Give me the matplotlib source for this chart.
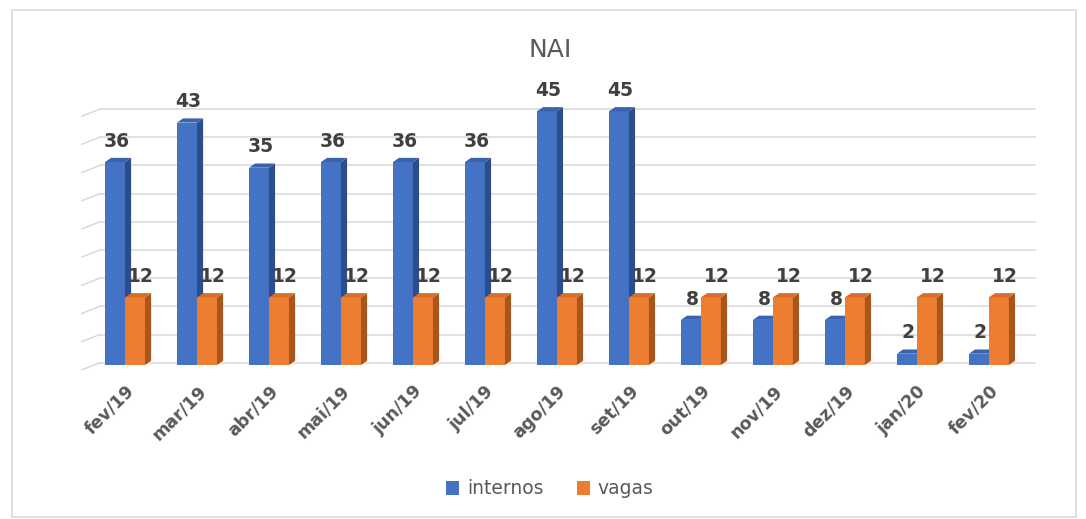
import numpy as np
import matplotlib.pyplot as plt
from matplotlib.patches import Polygon, Rectangle, Patch

meses = ["fev/19", "mar/19", "abr/19", "mai/19", "jun/19", "jul/19", "ago/19",
         "set/19", "out/19", "nov/19", "dez/19", "jan/20", "fev/20"]
internos = [36, 43, 35, 36, 36, 36, 45, 45, 8, 8, 8, 2, 2]
vagas = [12, 12, 12, 12, 12, 12, 12, 12, 12, 12, 12, 12, 12]

azul, azul_esc, azul_top = "#4472C4", "#2B4D8C", "#3A63B0"
lar, lar_esc, lar_top = "#ED7D31", "#A9561D", "#D86E26"
cinza = "#595959"

W, H = 1086, 519
fig = plt.figure(figsize=(W / 100, H / 100), dpi=100)
fig.patches.append(Rectangle((12 / W, 2 / H), (1076 - 12) / W, (509 - 2) / H,
                             transform=fig.transFigure, fill=False,
                             edgecolor="#D9D9D9", lw=1.2))

# axes: pixel x 80..1040, y 95..370
ax = fig.add_axes([80 / W, (H - 370) / H, 960 / W, 275 / H])
ax.set_xlim(-0.625, 12.71)
ax.set_ylim(-0.89, 47.9)
ax.axis("off")

bw = 0.278
dx, dy = 0.085, 0.75

# grade em "3D"
for v in range(0, 50, 5):
    g = v + 0.4
    ax.plot([-0.35, 12.64], [g, g], color="#D9D9D9", lw=1.1, zorder=0)
    ax.plot([-0.6, -0.35], [g - 1.25, g], color="#D9D9D9", lw=1.1, zorder=0)


def barra(x0, h, cor, cor_lado, cor_topo):
    x1 = x0 + bw
    ax.add_patch(Polygon([(x0, 0), (x1, 0), (x1, h), (x0, h)], closed=True,
                         facecolor=cor, edgecolor="none", zorder=3))
    ax.add_patch(Polygon([(x1, 0), (x1 + dx, dy), (x1 + dx, h + dy), (x1, h)],
                         closed=True, facecolor=cor_lado, edgecolor="none", zorder=3))
    ax.add_patch(Polygon([(x0, h), (x1, h), (x1 + dx, h + dy), (x0 + dx, h + dy)],
                         closed=True, facecolor=cor_topo, edgecolor="none", zorder=3))


for i, (a, b) in enumerate(zip(internos, vagas)):
    barra(i - bw, a, azul, azul_esc, azul_top)
    barra(i, b, lar, lar_esc, lar_top)
    ax.text(i - bw / 2 + 0.02, a + 2.0, str(a), ha="center", va="bottom",
            fontsize=13.5, fontweight="bold", color="#404040", zorder=5)
    ax.text(i + bw / 2 + 0.08, b + 2.0, str(b), ha="center", va="bottom",
            fontsize=13.5, fontweight="bold", color="#404040", zorder=5)
    ax.text(i + 0.0, -3.0, meses[i], rotation=45, ha="right", va="top",
            fontsize=12.5, fontweight="bold", color=cinza, clip_on=False,
            rotation_mode="anchor")

fig.text(550 / W, 1 - 50 / H, "NAI", ha="center", va="center",
         fontsize=18, color=cinza)

handles = [Patch(facecolor=azul, label="internos"),
           Patch(facecolor=lar, label="vagas")]
fig.legend(handles=handles, loc="center", bbox_to_anchor=(550 / W, 1 - 489 / H),
           ncol=2, frameon=False, fontsize=13.5, labelcolor=cinza,
           handlelength=0.7, handleheight=0.7, handletextpad=0.4, columnspacing=1.8)

fig.savefig("out.png", dpi=100, facecolor="white")
